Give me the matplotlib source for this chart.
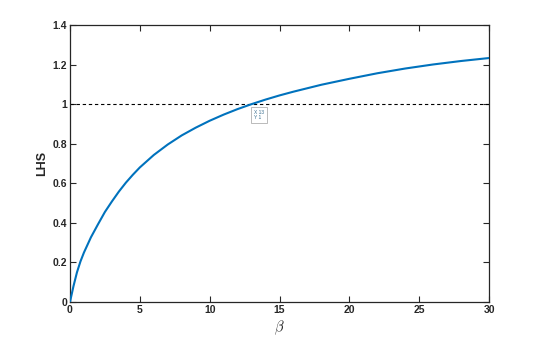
import matplotlib
matplotlib.use("Agg")
import matplotlib.pyplot as plt

# 1) Datos
beta = [0, 0.25, 0.5, 0.75, 1, 1.5, 2, 2.5, 3, 3.5, 4, 4.5, 5, 6, 7, 8, 9, 10,
        11, 12, 13, 14, 15, 16, 18, 20, 22, 24, 26, 28, 30]
lhs = [0, 0.08, 0.15, 0.205, 0.25, 0.327, 0.392, 0.455, 0.508, 0.558, 0.603,
       0.643, 0.68, 0.743, 0.796, 0.842, 0.881, 0.916, 0.947, 0.975, 1.0,
       1.023, 1.044, 1.063, 1.098, 1.128, 1.156, 1.18, 1.2005, 1.218, 1.233]
ref_y = 1.0
tip_x, tip_y = 13, 1
xticks = [0, 5, 10, 15, 20, 25, 30]
yticks = [0, 0.2, 0.4, 0.6, 0.8, 1.0, 1.2, 1.4]
ylabels = ["0", "0.2", "0.4", "0.6", "0.8", "1", "1.2", "1.4"]

plt.rcParams["font.family"] = ["Liberation Sans", "DejaVu Sans"]
plt.rcParams["mathtext.fontset"] = "cm"

# 2) Figura estilo MATLAB
fig = plt.figure(figsize=(5.4, 3.4), dpi=100)
ax = fig.add_axes([0.1296, 0.1118, 0.776, 0.8147])

ax.plot(beta, lhs, color="#0072BD", lw=1.5, zorder=3)
ax.plot([xticks[0], xticks[-1]], [ref_y, ref_y], color="black", lw=0.8,
        ls=(0, (3, 2.5)), zorder=2)

# data tip
ax.annotate("X 13\nY 1", xy=(tip_x, tip_y), xytext=(1.5, -4),
            textcoords="offset points", ha="left", va="top",
            fontsize=3.5, color="#3a6e8f", linespacing=1.1,
            bbox=dict(boxstyle="square,pad=0.6", fc="white", ec="#b0b0b0", lw=0.6))

ax.set_xlim(0, 30)
ax.set_ylim(0, 1.4)
ax.set_xticks(xticks)
ax.set_xticklabels([str(t) for t in xticks])
ax.set_yticks(yticks)
ax.set_yticklabels(ylabels)
ax.tick_params(direction="in", length=4, width=0.8, top=True, right=True,
               labelsize=7.5, pad=2, colors="#262626")
for lab in ax.get_xticklabels() + ax.get_yticklabels():
    lab.set_fontweight("bold")
for s in ax.spines.values():
    s.set_linewidth(0.9)
    s.set_color("#262626")

ax.set_xlabel(r"$\beta$", fontsize=10.5, labelpad=3, color="#262626")
ax.set_ylabel("LHS", fontsize=9, fontweight="bold", labelpad=3, color="#262626")

fig.savefig("out.png", dpi=100)
